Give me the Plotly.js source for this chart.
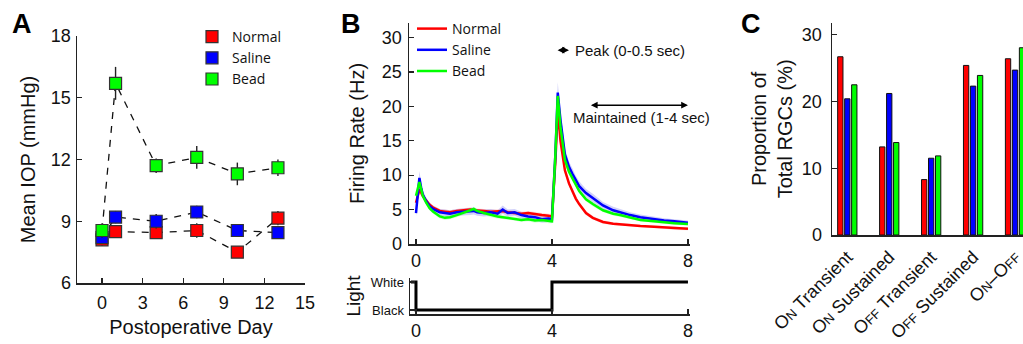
<!DOCTYPE html>
<html><head><meta charset="utf-8">
<script src="https://cdn.plot.ly/plotly-3.0.1.min.js"></script>
<style>html,body{margin:0;padding:0;background:#fff}#chart{width:1023px;height:344px}</style>
</head><body><div id="chart"></div>
<script>
// ---------- Panel A: IOP ----------
const days = [0, 1, 4, 7, 10, 13];
const iopNormal = [8.1, 8.5, 8.45, 8.55, 7.5, 9.15];
const iopSaline = [8.2, 9.2, 9.0, 9.45, 8.55, 8.45];
const iopBead   = [8.55, 15.7, 11.7, 12.1, 11.3, 11.6];
const errNormal = [0.3, 0.3, 0.3, 0.35, 0.25, 0.35];
const errSaline = [0.3, 0.3, 0.35, 0.3, 0.25, 0.25];
const errBead   = [0.35, 0.8, 0.35, 0.55, 0.55, 0.4];

// ---------- Panel B: firing rate ----------
const timeSec = [0,0.05,0.1,0.15,0.2,0.3,0.4,0.5,0.6,0.7,0.85,1.0,1.2,1.4,1.6,1.7,1.8,2.0,2.2,2.4,2.55,2.7,2.9,3.1,3.3,3.5,3.7,3.9,4.0,4.1,4.17,4.25,4.38,4.5,4.6,4.7,4.8,5.0,5.2,5.5,5.8,6.0,6.3,6.6,7.0,7.3,7.6,8.0];
const rateNormal = [6.0,7.2,7.9,7.5,7.0,6.3,5.7,5.3,5.0,4.8,4.7,4.6,4.8,4.9,5.0,4.9,4.9,4.8,4.7,4.7,4.8,4.6,4.5,4.4,4.5,4.3,4.2,4.1,4.0,12.0,19.5,15.0,10.7,8.8,7.6,6.6,5.8,4.5,3.8,3.2,2.95,2.85,2.7,2.6,2.5,2.4,2.25,2.2];
const rateSaline = [4.5,7.5,9.6,8.2,7.2,6.2,5.5,5.1,4.8,4.6,4.5,4.4,4.6,4.7,4.7,4.8,4.6,4.5,4.6,4.4,5.0,4.5,4.6,4.2,4.0,3.9,3.6,3.7,3.6,13.0,22.0,18.0,13.0,11.2,10.2,9.2,8.4,7.4,6.7,5.6,4.9,4.6,4.2,3.9,3.6,3.4,3.3,3.1];
const rateBead   = [7.0,8.2,9.0,8.0,7.0,6.0,5.2,4.7,4.3,4.0,3.8,3.9,4.2,4.5,4.9,5.1,4.8,4.5,4.2,4.0,3.9,3.8,3.7,3.5,3.6,3.4,3.5,3.3,3.3,13.0,21.5,17.0,12.2,10.5,9.5,8.6,7.7,6.5,5.8,4.9,4.4,4.2,3.8,3.5,3.3,3.1,3.0,2.9];
const semNormal = [0.4,0.5,0.6,0.5,0.4,0.3,0.3,0.3,0.3,0.3,0.3,0.3,0.3,0.3,0.3,0.3,0.3,0.3,0.3,0.3,0.3,0.3,0.3,0.3,0.3,0.3,0.3,0.3,0.3,0.8,1.0,0.8,0.5,0.4,0.3,0.3,0.3,0.3,0.25,0.25,0.2,0.2,0.2,0.2,0.2,0.2,0.2,0.2];
const semSaline = [0.5,0.8,1.0,0.8,0.6,0.5,0.5,0.5,0.5,0.5,0.5,0.5,0.5,0.5,0.5,0.5,0.5,0.5,0.5,0.5,0.6,0.5,0.5,0.5,0.5,0.5,0.5,0.5,0.5,1.0,1.5,1.2,0.9,0.8,0.8,0.7,0.7,0.6,0.6,0.5,0.5,0.45,0.4,0.4,0.35,0.35,0.3,0.3];
const semBead   = [0.4,0.5,0.6,0.5,0.4,0.3,0.3,0.3,0.3,0.3,0.3,0.3,0.3,0.3,0.3,0.3,0.3,0.3,0.3,0.3,0.3,0.3,0.3,0.3,0.3,0.3,0.3,0.3,0.3,0.8,1.0,0.8,0.5,0.4,0.35,0.3,0.3,0.3,0.3,0.25,0.25,0.2,0.2,0.2,0.2,0.2,0.2,0.2];
const lightT = [-0.15, 0, 0, 4, 4, 8];
const lightLevel = [1, 1, 0, 0, 1, 1];

// ---------- Panel C: RGC types ----------
const rgcTypes = [
  'O<span style="font-size:13px">N</span> Transient',
  'O<span style="font-size:13px">N</span> Sustained',
  'O<span style="font-size:13px">FF</span> Transient',
  'O<span style="font-size:13px">FF</span> Sustained',
  'O<span style="font-size:13px">N</span>–O<span style="font-size:13px">FF</span>'
];
const pctNormal = [26.7, 13.2, 8.3, 25.4, 26.4];
const pctSaline = [20.4, 21.2, 11.5, 22.3, 24.7];
const pctBead   = [22.5, 13.85, 11.85, 23.9, 28.05];

const RED = '#ff0000', BLUE = '#0000ff', GREEN = '#00ff00';
const AX = '#222';
const F = 'Liberation Sans, Arial, sans-serif';
const LF = 'Open Sans, Noto Sans, sans-serif';

const traces = [];
// A: dashed connecting lines
[iopNormal, iopSaline, iopBead].forEach(v => {
  traces.push({x: days, y: v, xaxis: 'x', yaxis: 'y', mode: 'lines', showlegend: false,
    line: {color: '#111', width: 1.3, dash: '7px,7px'}, hoverinfo: 'skip'});
});
[['Normal', iopNormal, errNormal, RED], ['Saline', iopSaline, errSaline, BLUE], ['Bead', iopBead, errBead, GREEN]].forEach(([n, v, e, c]) => {
  traces.push({x: days, y: v, name: n, xaxis: 'x', yaxis: 'y', mode: 'markers', legend: 'legend',
    marker: {symbol: 'square', size: 12, color: c, line: {color: '#333', width: 1.2}},
    error_y: {type: 'data', array: e, visible: true, width: 0, thickness: 1.4, color: '#222'}});
});

// B: SEM bands
function band(v, s, col) {
  const up = v.map((d, i) => d + s[i]);
  const lo = v.map((d, i) => d - s[i]);
  return {x: timeSec.concat(timeSec.slice().reverse()), y: up.concat(lo.reverse()),
    xaxis: 'x2', yaxis: 'y2', mode: 'lines', fill: 'toself', fillcolor: col,
    line: {width: 0}, showlegend: false, hoverinfo: 'skip'};
}
traces.push(band(rateNormal, semNormal, 'rgba(255,90,90,0.22)'));
traces.push(band(rateSaline, semSaline, 'rgba(90,90,235,0.28)'));
traces.push(band(rateBead, semBead, 'rgba(90,235,90,0.22)'));
[['Normal', rateNormal, RED], ['Saline', rateSaline, BLUE], ['Bead', rateBead, GREEN]].forEach(([n, v, c]) => {
  traces.push({x: timeSec, y: v, name: n, xaxis: 'x2', yaxis: 'y2', mode: 'lines', legend: 'legend2',
    line: {color: c, width: 2.5}});
});
// Light stimulus
traces.push({x: lightT, y: lightLevel, xaxis: 'x3', yaxis: 'y3', mode: 'lines', showlegend: false,
  line: {color: '#000', width: 3, shape: 'linear'}});

// C: bars
const catIdx = rgcTypes.map((_, i) => i);
[['Normal', pctNormal, RED], ['Saline', pctSaline, BLUE], ['Bead', pctBead, GREEN]].forEach(([n, v, c]) => {
  traces.push({type: 'bar', x: catIdx, y: v, name: n, xaxis: 'x4', yaxis: 'y4', showlegend: false,
    marker: {color: c, line: {color: '#111', width: 1}}});
});

const W = 1023, H = 344;
const px = v => v / W, py = v => 1 - v / H;
const axBase = {showline: true, linecolor: AX, linewidth: 1.5, ticks: 'inside', ticklen: 5, tickwidth: 1.3,
  tickcolor: AX, showgrid: false, zeroline: false, tickfont: {family: F, size: 18, color: '#111'},
  fixedrange: true, automargin: false};

const layout = {
  width: W, height: H, margin: {l: 0, r: 0, t: 0, b: 0}, paper_bgcolor: '#fff', plot_bgcolor: 'rgba(0,0,0,0)',
  font: {family: F, color: '#111'},
  barmode: 'group', bargap: 0.5, bargroupgap: 0.24,
  xaxis: Object.assign({}, axBase, {domain: [px(77), px(305)], range: [-1.85, 15], tickvals: [0,3,6,9,12,15],
    anchor: 'y', ticklabelstandoff: 3,
    title: {text: 'Postoperative Day', font: {family: F, size: 20}, standoff: 8}}),
  yaxis: Object.assign({}, axBase, {domain: [py(283), py(36)], range: [6, 18], tickvals: [6,9,12,15,18],
    anchor: 'x', ticklabelstandoff: 1,
    title: {text: 'Mean IOP (mmHg)', font: {family: F, size: 20}, standoff: 10}}),
  xaxis2: Object.assign({}, axBase, {domain: [px(409), px(690)], range: [-0.206, 8.06], tickvals: [0,4,8],
    anchor: 'y2', ticklabelstandoff: 0}),
  yaxis2: Object.assign({}, axBase, {domain: [py(244), py(23)], range: [0, 32.1], tickvals: [0,5,10,15,20,25,30],
    anchor: 'x2', ticklabelstandoff: 2,
    title: {text: 'Firing Rate (Hz)', font: {family: F, size: 20}, standoff: 12}}),
  xaxis3: Object.assign({}, axBase, {domain: [px(410), px(690)], range: [-0.176, 8.06], tickvals: [0,4,8],
    anchor: 'y3', ticklabelstandoff: 0}),
  yaxis3: Object.assign({}, axBase, {domain: [py(314), py(278)], range: [-0.143, 1.143], tickvals: [0,1],
    ticktext: ['Black', 'White'], tickfont: {family: F, size: 13, color: '#111'}, anchor: 'x3', ticklabelstandoff: 2,
    title: {text: 'Light', font: {family: F, size: 19}, standoff: 5}}),
  xaxis4: Object.assign({}, axBase, {domain: [px(832), 1], range: [-0.365, 4.19], tickvals: catIdx,
    ticktext: rgcTypes, ticks: '', tickangle: -45, ticklabeloverflow: 'allow', ticklabelstandoff: 3,
    tickfont: {family: F, size: 18, color: '#111'}, anchor: 'y4'}),
  yaxis4: Object.assign({}, axBase, {domain: [py(235), py(22.7)], range: [0, 31.8], tickvals: [0,10,20,30],
    anchor: 'x4', ticklabelstandoff: 5,
    title: {text: 'Proportion of<br>Total RGCs (%)', font: {family: F, size: 20}, standoff: 4}}),
  legend: {x: px(192), y: py(21), xanchor: 'left', yanchor: 'top', bgcolor: 'rgba(0,0,0,0)',
    font: {family: LF, size: 14, color: '#111'}, tracegroupgap: 0},
  legend2: {x: px(412), y: py(13), xanchor: 'left', yanchor: 'top', bgcolor: 'rgba(0,0,0,0)',
    font: {family: LF, size: 14, color: '#111'}, tracegroupgap: 0},
  annotations: [
    {text: '<b>A</b>', xref: 'paper', yref: 'paper', x: px(22), y: py(24), xanchor: 'center', yanchor: 'middle', showarrow: false, font: {family: F, size: 27, color: '#000'}},
    {text: '<b>B</b>', xref: 'paper', yref: 'paper', x: px(351), y: py(24), xanchor: 'center', yanchor: 'middle', showarrow: false, font: {family: F, size: 27, color: '#000'}},
    {text: '<b>C</b>', xref: 'paper', yref: 'paper', x: px(751), y: py(24), xanchor: 'center', yanchor: 'middle', showarrow: false, font: {family: F, size: 27, color: '#000'}},
    {text: '', xref: 'x2', yref: 'y2', x: 4.5, y: 28.15, axref: 'x2', ayref: 'y2', ax: 4.12, ay: 28.15,
      showarrow: true, arrowside: 'end+start', arrowhead: 2, arrowsize: 0.9, arrowwidth: 1.5, arrowcolor: '#000'},
    {text: 'Peak (0-0.5 sec)', xref: 'paper', yref: 'y2', x: px(573), y: 28.15, xanchor: 'left', showarrow: false,
      font: {family: F, size: 15, color: '#111'}},
    {text: '', xref: 'x2', yref: 'y2', x: 8.0, y: 20.16, axref: 'x2', ayref: 'y2', ax: 5.1, ay: 20.16,
      showarrow: true, arrowside: 'end+start', arrowhead: 2, arrowsize: 0.9, arrowwidth: 1.5, arrowcolor: '#000'},
    {text: 'Maintained (1-4 sec)', xref: 'paper', yref: 'y2', x: px(571), y: 18.4, xanchor: 'left', showarrow: false,
      font: {family: F, size: 15, color: '#111'}}
  ]
};

Plotly.newPlot('chart', traces, layout, {staticPlot: true, displayModeBar: false});
</script></body></html>
